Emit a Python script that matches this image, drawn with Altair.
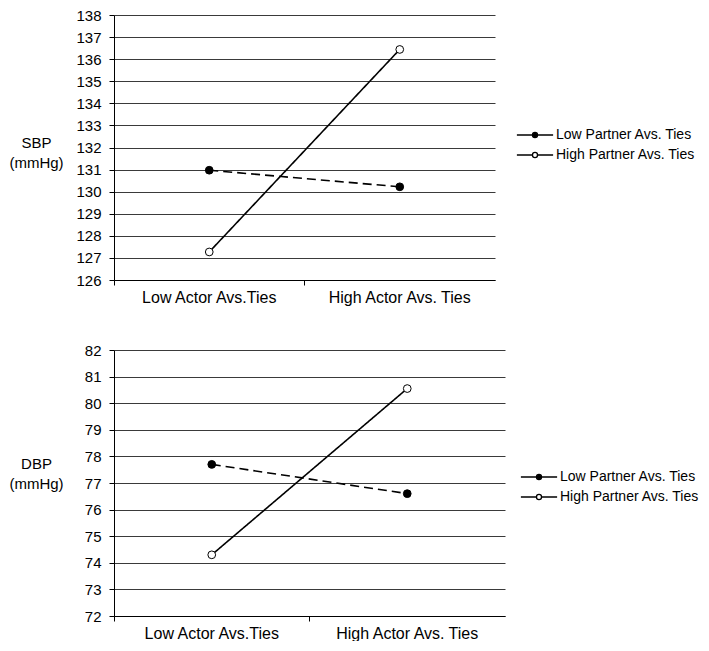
import altair as alt
import pandas as pd

categories = ["Low Actor Avs.Ties", "High Actor Avs. Ties"]
series = ["Low Partner Avs. Ties", "High Partner Avs. Ties"]

sbp_low_partner = [130.97, 130.22]
sbp_high_partner = [127.27, 136.44]
dbp_low_partner = [77.7, 76.6]
dbp_high_partner = [74.3, 80.55]

FONT = "Liberation Sans"
LEGEND_SYMBOL = ("M-2.5,0H-0.35M0.35,0H2.5"
                 "M0.35,0A0.35,0.35,0,1,1,-0.35,0A0.35,0.35,0,1,1,0.35,0Z")


def panel(low_vals, high_vals, ymin, ymax, title_lines, width, height,
          title_y, legend_x, legend_y):
    df = pd.DataFrame({
        "actor": categories * 2,
        "partner": [series[0]] * 2 + [series[1]] * 2,
        "value": low_vals + high_vals,
    })
    x = alt.X(
        "actor:N", sort=categories,
        scale=alt.Scale(type="band", paddingInner=0, paddingOuter=0),
        bandPosition=0.5,
        axis=alt.Axis(title=None, labelAngle=0, bandPosition=0, grid=False,
                      tickSize=5, labelPadding=4, labelFontSize=16,
                      labelFont=FONT, labelColor="black",
                      domainColor="black", tickColor="black",
                      domainWidth=1, tickWidth=1),
    )
    y = alt.Y(
        "value:Q",
        scale=alt.Scale(domain=[ymin, ymax], nice=False, zero=False),
        axis=alt.Axis(values=list(range(ymin, ymax + 1)), title=title_lines,
                      titleAngle=0, titleAlign="center", titleBaseline="middle",
                      titleX=-78, titleY=title_y, titleFontSize=15,
                      titleFontWeight="normal", titleFont=FONT,
                      titleColor="black", titleLineHeight=20,
                      grid=True, gridColor="#3a3a3a", gridWidth=1, gridOpacity=1,
                      tickSize=5, labelPadding=8, labelFontSize=15,
                      labelFont=FONT, labelColor="black",
                      domainColor="black", tickColor="black",
                      domainWidth=1, tickWidth=1),
    )
    lines = alt.Chart(df).mark_line(color="black", strokeWidth=1.6).encode(
        x=x, y=y,
        detail="partner:N",
        strokeDash=alt.condition(
            alt.datum.partner == series[0], alt.value([9, 5]), alt.value([1, 0])
        ),
    )
    points = alt.Chart(df).mark_point(
        shape="circle", filled=True, stroke="black", strokeWidth=1,
        size=60, opacity=1,
    ).encode(
        x=x, y=y,
        fill=alt.Fill(
            "partner:N",
            scale=alt.Scale(domain=series, range=["black", "white"]),
            legend=alt.Legend(
                title=None, orient="none", legendX=legend_x, legendY=legend_y,
                symbolType=LEGEND_SYMBOL, symbolSize=210,
                symbolStrokeColor="black", symbolStrokeWidth=1.3,
                symbolOpacity=1, labelFontSize=14, labelFont=FONT,
                labelColor="black", labelOffset=13, rowPadding=5, padding=0,
            )),
    )
    return alt.layer(lines, points).properties(width=width, height=height)


top = panel(sbp_low_partner, sbp_high_partner, 126, 138, ["SBP", "(mmHg)"],
            381, 265, 127, 413, 112)
bottom = panel(dbp_low_partner, dbp_high_partner, 72, 82, ["DBP", "(mmHg)"],
               391, 266, 113, 417, 119)

chart = alt.vconcat(top, bottom, spacing=38).resolve_scale(
    y="independent", fill="independent"
).resolve_legend(fill="independent").properties(
    padding={"left": 0, "top": 0, "right": 0, "bottom": 0}
).configure(font=FONT).configure_view(strokeWidth=0)

chart.save("out.html", embed_options={"renderer": "svg", "actions": False})
